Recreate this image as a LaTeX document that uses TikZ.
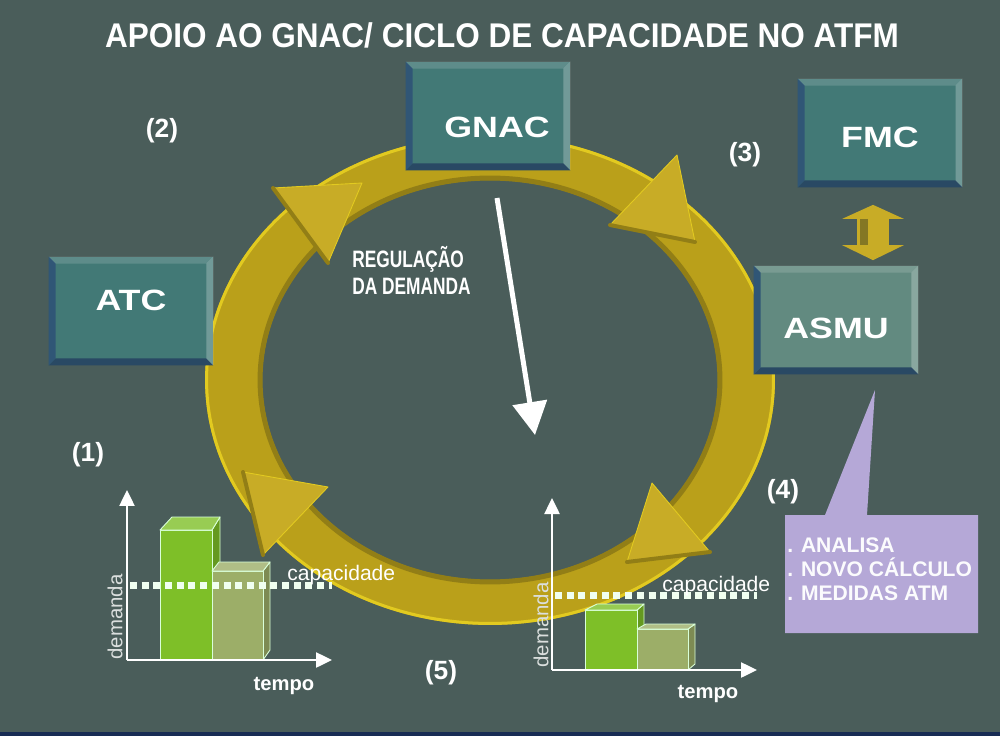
\documentclass[tikz,border=0pt]{standalone}
\usepackage{fontspec}
\setmainfont{Liberation Sans}
\usepackage{graphicx}
\usetikzlibrary{calc,arrows.meta}

\definecolor{slide}{RGB}{74,93,90}
\definecolor{ringgold}{RGB}{186,160,26}
\definecolor{ringlight}{RGB}{226,202,32}
\definecolor{ringshade}{RGB}{146,126,22}
\definecolor{headgold}{RGB}{200,172,38}
\definecolor{boxteal}{RGB}{66,121,118}
\definecolor{boxgrey}{RGB}{98,138,128}
\definecolor{bevelblue}{RGB}{48,86,118}
\definecolor{bargreen}{RGB}{126,191,40}
\definecolor{barolive}{RGB}{156,174,104}
\definecolor{lilac}{RGB}{181,168,215}
\definecolor{navy}{RGB}{24,44,84}

\tikzset{
	bevel/.style={path picture={
		\fill[bevelblue] (path picture bounding box.south west) -- (path picture bounding box.north west) -- ++(0.14cm,-0.14cm) -- ($(path picture bounding box.south west)+(0.14cm,0.14cm)$) -- cycle;
		\fill[bevelblue!85!black] (path picture bounding box.south west) -- ++(0.14cm,0.14cm) -- ($(path picture bounding box.south east)+(-0.14cm,0.14cm)$) -- (path picture bounding box.south east) -- cycle;
		\fill[white,opacity=0.15] (path picture bounding box.north west) -- ++(0.14cm,-0.14cm) -- ($(path picture bounding box.north east)+(-0.14cm,-0.14cm)$) -- (path picture bounding box.north east) -- cycle;
		\fill[white,opacity=0.25] (path picture bounding box.north east) -- ++(-0.14cm,-0.14cm) -- ($(path picture bounding box.south east)+(-0.14cm,0.14cm)$) -- (path picture bounding box.south east) -- cycle;
	}},
	unit/.style={fill=#1, bevel, minimum width=3.3cm, minimum height=2.18cm, inner sep=0pt,
		text=white, font=\bfseries\fontsize{16.7}{18}\selectfont},
	number/.style={text=white, font=\bfseries\fontsize{15}{17}\selectfont},
	ringhead/.style={fill=headgold, draw=ringlight, line width=0.5pt, line join=round},
	headside/.style={draw=ringshade, line width=0.08cm, line cap=round},
	axis/.style={draw=white, line width=0.05cm, -{Triangle[width=0.3cm,length=0.32cm]}},
	capline/.style={draw=white!94!green, line width=0.14cm, dash pattern=on 0.14cm off 0.094cm},
	barface/.style={fill=#1, draw=white!85!green, line width=0.5pt, line join=round},
	chartlabel/.style={text=white, font=\bfseries\fontsize{11.5}{13}\selectfont},
	caplabel/.style={text=white, font=\fontsize{12}{14}\selectfont, inner sep=0pt},
	axislabel/.style={text=white!80!slide, font=\fontsize{11.6}{13}\selectfont, rotate=90, inner sep=0pt}
}

\begin{document}
\begin{tikzpicture}[x=0.02cm, y=-0.02cm]
	\fill[slide] (0,0) rectangle (1000,736);
	\fill[navy] (0,732) rectangle (1000,736);
	\useasboundingbox (0,0) rectangle (1000,736);

	\node[text=white, font=\bfseries\fontsize{19.5}{22}\selectfont] (title) at (502,35) {\scalebox{0.92}[1]{APOIO AO GNAC/ CICLO DE CAPACIDADE NO ATFM}};

	% ring
	\fill[ringgold, even odd rule] (490,380) ellipse [x radius=5.7cm, y radius=4.9cm] (490,380) ellipse [x radius=4.56cm, y radius=4cm];
	\draw[ringlight, line width=0.06cm] (490,380) ellipse [x radius=5.67cm, y radius=4.87cm];
	\draw[ringshade, line width=0.1cm] (490,380) ellipse [x radius=4.6cm, y radius=4.04cm];

	\filldraw[ringhead] (273,188) -- (362,183) -- (328,263) -- cycle;
	\draw[headside] (273,188) -- (328,263);
	\filldraw[ringhead] (610,225) -- (677,155) -- (695,242) -- cycle;
	\draw[headside] (610,225) -- (695,242);
	\filldraw[ringhead] (652,483) -- (710,552) -- (627,562) -- cycle;
	\draw[headside] (627,562) -- (710,552);
	\filldraw[ringhead] (243,472) -- (328,487) -- (263,555) -- cycle;
	\draw[headside] (243,472) -- (263,555);

	% units
	\node[unit=boxteal, text height=0.86cm, text depth=0pt] (gnac) at (488,116) {\hspace*{0.36cm}\scalebox{1.22}[1]{GNAC}};
	\node[unit=boxteal, text height=0.42cm, text depth=0.44cm] (atc) at (131,311) {\scalebox{1.22}[1]{ATC}};
	\node[unit=boxteal, text height=0.58cm, text depth=0pt] (fmc) at (880,133) {\scalebox{1.22}[1]{FMC}};
	\node[unit=boxgrey, text height=0.74cm, text depth=0pt] (asmu) at (836,320) {\scalebox{1.22}[1]{ASMU}};

	\coordinate (link) at ($(fmc.south)+(-7,0)$);
	\draw[headgold, line width=0.64cm, shorten <=0.34cm, shorten >=0.1cm,
		{Triangle[width=1.22cm,length=0.28cm]}-{Triangle[width=1.22cm,length=0.3cm]}] (link) -- (link |- asmu.north);
	\draw[ringshade!80!slide, line width=0.16cm, shorten <=0.62cm, shorten >=0.4cm] ($(link)+(-0.18cm,0)$) -- ($(link |- asmu.north)+(-0.18cm,0)$);

	\node[number] (n1) at (88,455) {(1)};
	\node[number] (n2) at (162,131) {(2)};
	\node[number] (n3) at (745,155) {(3)};
	\node[number] (n4) at (783,492) {(4)};
	\node[number] (n5) at (441,673) {(5)};

	% demand regulation
	\node[anchor=west, align=left, text=white, inner sep=0pt, font=\bfseries\fontsize{13.5}{15.4}\selectfont] (reg) at (352,270)
		{\scalebox{0.73}[1]{REGULAÇÃO}\\\scalebox{0.73}[1]{DA DEMANDA}};
	\coordinate (regstart) at (497,198);
	\coordinate (regtip) at (535,435);
	\draw[white, line width=0.1cm, -{Triangle[width=0.68cm,length=0.66cm]}] (regstart) -- (regtip);

	% chart 1
	\filldraw[barface=bargreen!80!black] (212,530) -- (220,517) -- (220,652) -- (212,660) -- cycle;
	\filldraw[barface=bargreen] (160,530) rectangle (212,660);
	\filldraw[barface=bargreen!80!white] (160,530) -- (172,517) -- (220,517) -- (212,530) -- cycle;
	\filldraw[barface=barolive!80!black] (263,571) -- (270,562) -- (270,650) -- (263,660) -- cycle;
	\filldraw[barface=barolive] (212,571) rectangle (263,660);
	\filldraw[barface=barolive!80!white] (212,571) -- (219,562) -- (270,562) -- (263,571) -- cycle;
	\coordinate (o1) at (127,660);
	\coordinate (y1) at (127,490);
	\coordinate (x1) at (332,660);
	\draw[axis] (o1) -- (y1);
	\draw[axis] (o1) -- (x1);
	\coordinate (cap1a) at (130,585);
	\coordinate (cap1b) at (332,585);
	\draw[capline] (cap1a) -- (cap1b);
	\node[caplabel, anchor=west] (capacity1) at (287,575) {capacidade};
	\node[axislabel] (demand1) at (115,617) {demanda};
	\node[chartlabel] (time1) at (284,686) {tempo};

	% chart 2
	\filldraw[barface=bargreen!80!black] (637,610) -- (644,604) -- (644,664) -- (637,670) -- cycle;
	\filldraw[barface=bargreen] (585,610) rectangle (637,670);
	\filldraw[barface=bargreen!80!white] (585,610) -- (597,604) -- (644,604) -- (637,610) -- cycle;
	\filldraw[barface=barolive!80!black] (688,629) -- (695,624) -- (695,664) -- (688,670) -- cycle;
	\filldraw[barface=barolive] (637,629) rectangle (688,670);
	\filldraw[barface=barolive!80!white] (637,629) -- (646,624) -- (695,624) -- (688,629) -- cycle;
	\coordinate (o2) at (552,670);
	\coordinate (y2) at (552,498);
	\coordinate (x2) at (757,670);
	\draw[axis] (o2) -- (y2);
	\draw[axis] (o2) -- (x2);
	\coordinate (cap2a) at (555,595);
	\coordinate (cap2b) at (757,595);
	\draw[capline] (cap2a) -- (cap2b);
	\node[caplabel, anchor=west] (capacity2) at (662,586) {capacidade};
	\node[axislabel] (demand2) at (541,625) {demanda};
	\node[chartlabel] (time2) at (708,694) {tempo};

	% ASMU note
	\fill[lilac] (785,515) -- (825,515) -- (875,390) -- (867,515) -- (978,515) -- (978,633) -- (785,633) -- cycle;
	\node[anchor=west, align=left, inner sep=0pt, text=white!95!lilac, font=\bfseries\fontsize{12}{13.7}\selectfont] (note) at (787,569)
		{. ANALISA\\. NOVO CÁLCULO\\. MEDIDAS ATM};
\end{tikzpicture}
\end{document}
